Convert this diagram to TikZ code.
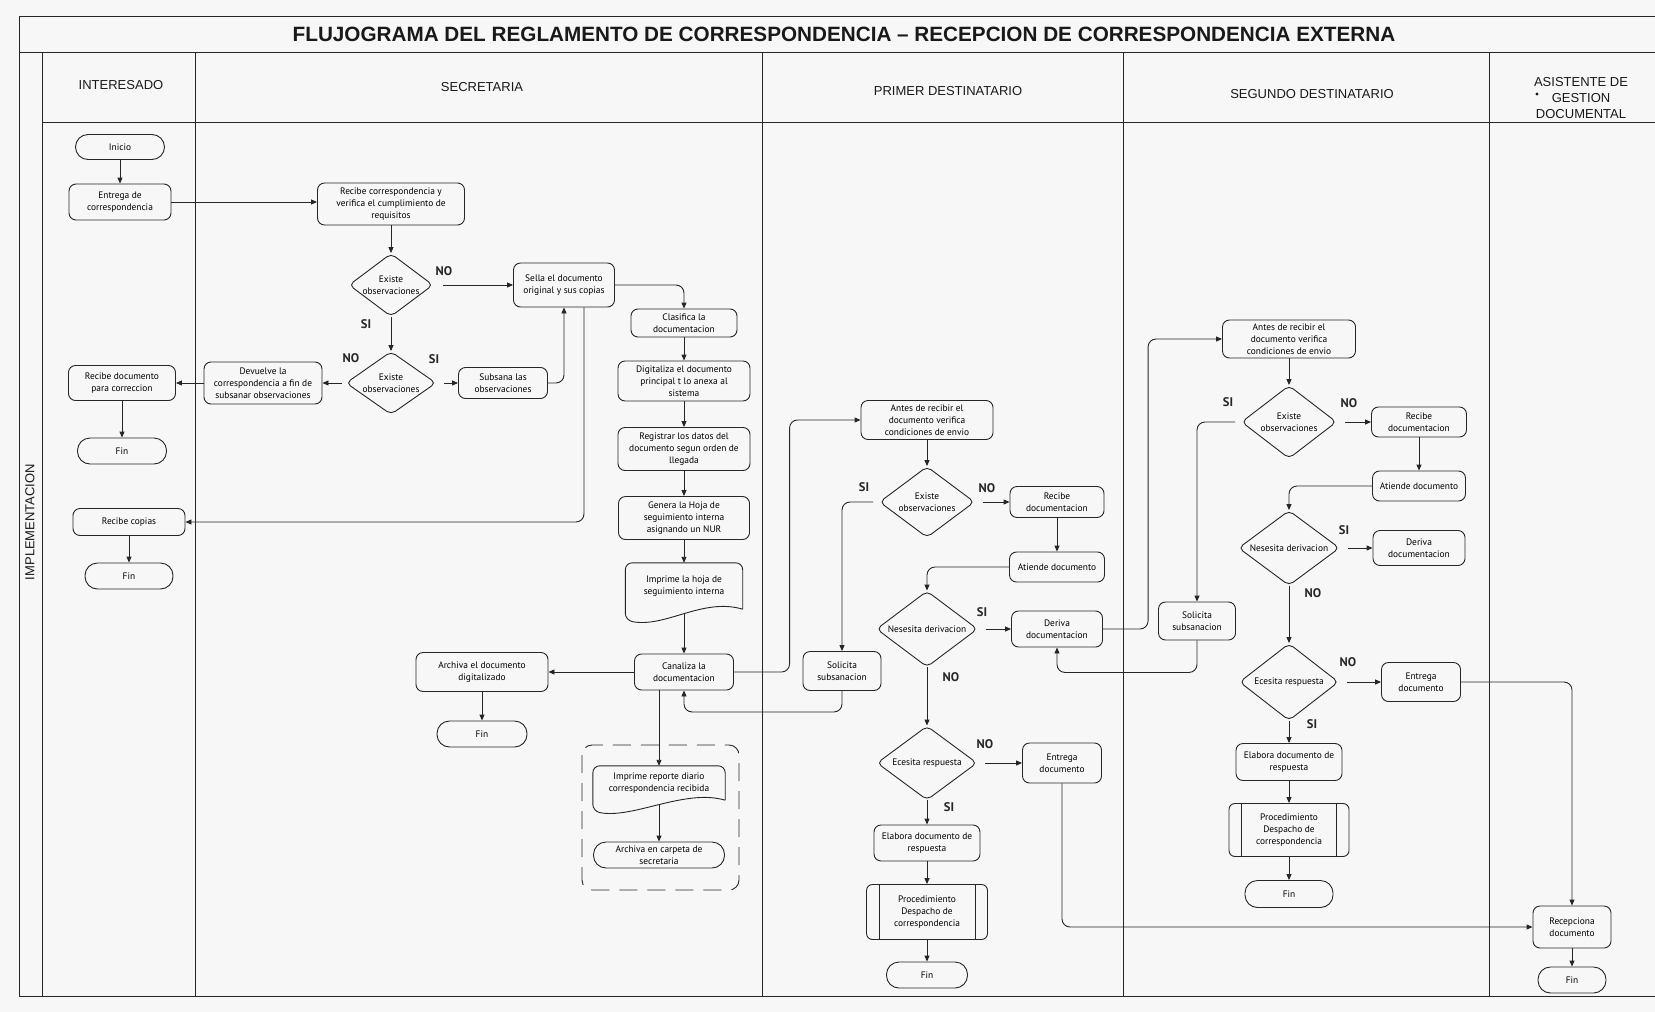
\documentclass[tikz,border=0pt]{standalone}
\usepackage{fontspec}
\setmainfont{PT Sans}
\newfontfamily\headfont{Liberation Sans}
\usetikzlibrary{shapes.geometric,arrows.meta,calc}

\tikzset{
  flow/.style={draw=black!85, line width=0.9pt},
  box/.style={flow, rectangle, rounded corners=7, align=center, inner sep=1pt,
    font=\fontsize{9.4}{11.8}\selectfont},
  term/.style={box, rounded corners=12.5},
  docbox/.style={rectangle, align=center, inner sep=1pt, font=\fontsize{9.4}{11.8}\selectfont},
  dec/.style={flow, diamond, aspect=1.33, inner sep=0pt, align=center, rounded corners=5,
    font=\fontsize{9.4}{11.8}\selectfont},
  sz/.style 2 args={minimum width=#1, minimum height=#2},
  arr/.style={flow, -{Triangle[length=6pt,width=5pt]}, rounded corners=8},
  yn/.style={font=\fontsize{12.5}{14}\selectfont\bfseries, text=black!85},
  lane/.style={draw=black!85, line width=1pt},
  head/.style={font=\headfont\fontsize{13}{16}\selectfont, align=center, text=black!90},
}

% documento con borde ondulado
\newcommand{\docoutline}[2]{%
  \draw[flow, rounded corners=7] (#1.south east) -- (#1.north east) -- (#1.north west)
    -- ($(#1.south west)+(0,#2)$) .. controls +(40,8) and +(-40,-12) .. (#1.south east);}
% proceso predefinido
\newcommand{\predlines}[1]{%
  \draw[flow] ([xshift=13pt]#1.north west) -- ([xshift=13pt]#1.south west);
  \draw[flow] ([xshift=-13pt]#1.north east) -- ([xshift=-13pt]#1.south east);}

\begin{document}
\begin{tikzpicture}[x=1pt,y=-1pt]
\useasboundingbox (0,0) rectangle (1655,1012);
\fill[black!3] (0,0) rectangle (1655,1012);

% marco y carriles
\draw[lane] (1655,16) -- (19,16) -- (19,996) -- (1655,996);
\draw[lane] (19,52) -- (1655,52);
\draw[lane] (42,122) -- (1655,122);
\foreach \x in {42,195,762,1123,1489}
  \draw[lane] (\x,52) -- (\x,996);

\node[font=\headfont\bfseries\fontsize{20.7}{23}\selectfont, text=black!90] (title) at (844,34)
  {FLUJOGRAMA DEL REGLAMENTO DE CORRESPONDENCIA – RECEPCION DE CORRESPONDENCIA EXTERNA};
\node[head] (hint) at (121,85) {INTERESADO};
\node[head] (hsec) at (482,87) {SECRETARIA};
\node[head] (hpri) at (948,91) {PRIMER DESTINATARIO};
\node[head] (hseg) at (1312,94) {SEGUNDO DESTINATARIO};
\node[head] (hasi) at (1581,98) {ASISTENTE DE\\GESTION\\DOCUMENTAL};
\fill[black!90] (1537,94) circle (1.6pt);
\node[head, rotate=90] (impl) at (30,522) {IMPLEMENTACION};

% interesado
\node[term, sz={89}{25}] (ini) at (120,147) {Inicio};
\node[box, sz={102}{36}] (ent) at (120,202) {Entrega de\\correspondencia};
\node[box, sz={107}{35}] (rdc) at (122,383) {Recibe documento\\para correccion};
\node[term, sz={89}{26}] (fin1) at (122,451) {Fin};
\node[box, sz={112}{27}] (rcp) at (129,522) {Recibe copias};
\node[term, sz={88}{26}] (fin2) at (129,576) {Fin};

% secretaria
\node[box, sz={147}{42}] (rcv) at (391,204) {Recibe correspondencia y\\verifica el cumplimiento de\\requisitos};
\node[dec, sz={84}{63}] (d1) at (391,285) {Existe\\observaciones};
\node[box, sz={101}{44}] (sel) at (564,285) {Sella el documento\\original y sus copias};
\node[dec, sz={90}{63}] (d2) at (391,383) {Existe\\observaciones};
\node[box, sz={118}{42}] (dev) at (263,383) {Devuelve la\\correspondencia a fin de\\subsanar observaciones};
\node[box, sz={89}{31}] (sub) at (503,383) {Subsana las\\observaciones};
\node[box, sz={106}{28}] (cla) at (684,323) {Clasifica la\\documentacion};
\node[box, sz={132}{40}] (dig) at (684,381) {Digitaliza el documento\\principal t lo anexa al\\sistema};
\node[box, sz={132}{43}] (reg) at (684,449) {Registrar los datos del\\documento segun orden de\\llegada};
\node[box, sz={131}{43}] (gen) at (684,518) {Genera la Hoja de\\seguimiento interna\\asignando un NUR};
\node[docbox, sz={117}{46}] (imp) at (684,586) {Imprime la hoja de\\seguimiento interna};
\docoutline{imp}{11}
\node[box, sz={99}{36}] (can) at (684,672) {Canaliza la\\documentacion};
\node[box, sz={132}{39}] (arch) at (482,672) {Archiva el documento\\digitalizado};
\node[term, sz={90}{26}] (fin3) at (482,734) {Fin};
\draw[flow, dash pattern=on 18pt off 10pt, rounded corners=10] (582,745) rectangle (739,890);
\node[docbox, sz={132}{34}] (rpt) at (659,783) {Imprime reporte diario\\correspondencia recibida};
\docoutline{rpt}{11}
\node[term, sz={131}{26}] (arc) at (659,855) {Archiva en carpeta de\\secretaria};

% primer destinatario
\node[box, sz={132}{39}] (ant1) at (927,420) {Antes de recibir el\\documento verifica\\condiciones de envio};
\node[dec, sz={95}{71}] (d3) at (927,502) {Existe\\observaciones};
\node[box, sz={94}{31}] (rec1) at (1057,502) {Recibe\\documentacion};
\node[box, sz={95}{30}] (ati1) at (1057,567) {Atiende documento};
\node[dec, sz={101}{76}] (d4) at (927,629) {Nesesita derivacion};
\node[box, sz={91}{36}] (der1) at (1057,629) {Deriva\\documentacion};
\node[box, sz={78}{39}] (sol1) at (842,671) {Solicita\\subsanacion};
\node[dec, sz={100}{74}] (d5) at (927,763) {Ecesita respuesta};
\node[box, sz={79}{40}] (ent1) at (1062,763) {Entrega\\documento};
\node[box, sz={106}{36}] (ela1) at (927,843) {Elabora documento de\\respuesta};
\node[box, rounded corners=6, sz={121}{55}] (pro1) at (927,912) {Procedimiento\\Despacho de\\correspondencia};
\predlines{pro1}
\node[term, sz={81}{26}] (fin4) at (927,975) {Fin};

% segundo destinatario
\node[box, sz={133}{38}] (ant2) at (1289,339) {Antes de recibir el\\documento verifica\\condiciones de envio};
\node[dec, sz={95}{73}] (d6) at (1289,422) {Existe\\observaciones};
\node[box, sz={95}{30}] (rec2) at (1419,422) {Recibe\\documentacion};
\node[box, sz={93}{30}] (ati2) at (1419,486) {Atiende documento};
\node[dec, sz={101}{75}] (d7) at (1289,548) {Nesesita derivacion};
\node[box, sz={92}{35}] (der2) at (1419,548) {Deriva\\documentacion};
\node[box, sz={77}{38}] (sol2) at (1197,621) {Solicita\\subsanacion};
\node[dec, sz={99}{77}] (d8) at (1289,682) {Ecesita respuesta};
\node[box, sz={79}{39}] (ent2) at (1421,682) {Entrega\\documento};
\node[box, sz={106}{37}] (ela2) at (1289,762) {Elabora documento de\\respuesta};
\node[box, rounded corners=6, sz={120}{53}] (pro2) at (1289,830) {Procedimiento\\Despacho de\\correspondencia};
\predlines{pro2}
\node[term, sz={88}{27}] (fin5) at (1289,894) {Fin};

% asistente de gestion documental
\node[box, sz={78}{42}] (recp) at (1572,927) {Recepciona\\documento};
\node[term, sz={68}{26}] (fin6) at (1572,980) {Fin};

% SI / NO
\node[yn] (n1) at (444,271) {NO};
\node[yn] (s1) at (366,324) {SI};
\node[yn] (n2) at (351,358) {NO};
\node[yn] (s2) at (434,359) {SI};
\node[yn] (s3) at (864,487) {SI};
\node[yn] (n3) at (987,488) {NO};
\node[yn] (s4) at (982,612) {SI};
\node[yn] (n4) at (951,677) {NO};
\node[yn] (n5) at (985,744) {NO};
\node[yn] (s5) at (949,807) {SI};
\node[yn] (s6) at (1228,402) {SI};
\node[yn] (n6) at (1349,403) {NO};
\node[yn] (s7) at (1344,530) {SI};
\node[yn] (n7) at (1313,593) {NO};
\node[yn] (n8) at (1348,662) {NO};
\node[yn] (s8) at (1312,724) {SI};

% conectores
\draw[arr] (ini) -- (ent);
\draw[arr] (ent) -- (ent -| rcv.west);
\draw[arr] (rcv) -- (d1);
\draw[arr, shorten <=10pt] (d1) -- (sel);
\draw[arr] (d1) -- (d2);
\draw[arr, shorten <=4pt] (d2) -- (dev);
\draw[arr, shorten <=8pt] (d2) -- (sub);
\draw[arr] (dev) -- (rdc);
\draw[arr] (rdc) -- (fin1);
\draw[arr] (sub.east) -| (sel.south);
\draw[arr] ([xshift=20pt]sel.south) |- (rcp.east);
\draw[arr] (rcp) -- (fin2);
\draw[arr] (sel.east) -| (cla.north);
\draw[arr] (cla) -- (dig);
\draw[arr] (dig) -- (reg);
\draw[arr] (reg) -- (gen);
\draw[arr] (gen) -- (imp.north);
\draw[arr] ($(imp.south)+(0,4)$) -- (can);
\draw[arr] (can) -- (arch);
\draw[arr] (arch) -- (fin3);
\draw[arr] (can.south -| rpt.north) -- (rpt.north);
\draw[arr] ($(rpt.south)+(0,4)$) -- (arc);
\draw[arr] (can.east) -| ($(ant1.west)+(-71,0)$) -- (ant1.west);

\draw[arr] (ant1) -- (d3);
\draw[arr, shorten <=8pt] (d3) -- (rec1);
\draw[arr, shorten <=6pt] (d3.west) -| (sol1.north);
\draw[arr] (rec1) -- (ati1);
\draw[arr] (ati1.west) -| (d4.north);
\draw[arr, shorten <=8pt] (d4) -- (der1);
\draw[arr] (d4) -- (d5);
\draw[arr] (sol1.south) -- ++(0,21) -| (can.south);
\draw[arr] (der1.east) -| ($(ant2.west)+(-74,0)$) -- (ant2.west);
\draw[arr, shorten <=8pt] (d5) -- (ent1);
\draw[arr] (d5) -- (ela1);
\draw[arr] (ela1) -- (pro1);
\draw[arr] (pro1) -- (fin4);
\draw[arr] (ent1.south) |- (recp.west);

\draw[arr] (ant2) -- (d6);
\draw[arr, shorten <=8pt] (d6) -- (rec2);
\draw[arr, shorten <=6pt] (d6.west) -| (sol2.north);
\draw[arr] (rec2) -- (ati2);
\draw[arr] (ati2.west) -| (d7.north);
\draw[arr, shorten <=8pt] (d7) -- (der2);
\draw[arr] (d7) -- (d8);
\draw[arr] (sol2.south) -- ++(0,32) -| (der1.south);
\draw[arr, shorten <=8pt] (d8) -- (ent2);
\draw[arr] (d8) -- (ela2);
\draw[arr] (ela2) -- (pro2);
\draw[arr] (pro2) -- (fin5);
\draw[arr] (ent2.east) -| (recp.north);
\draw[arr] (recp) -- (fin6);
\end{tikzpicture}
\end{document}
